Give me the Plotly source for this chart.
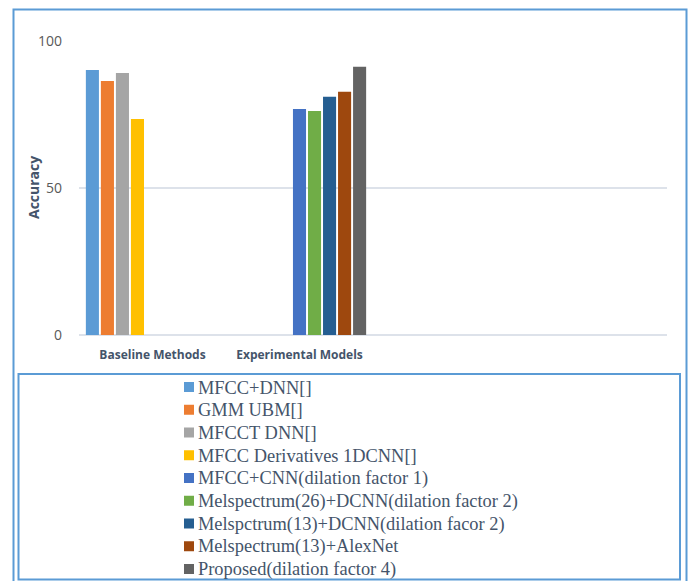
import plotly.graph_objects as go

# Category labels along the x axis (two trailing empty slots keep the spacing)
categories = ["Baseline Methods", "Experimental Models", "", ""]

# Series names and their accuracy values, with the category each belongs to
series_names = [
    "MFCC+DNN[]",
    "GMM UBM[]",
    "MFCCT DNN[]",
    "MFCC Derivatives 1DCNN[]",
    "MFCC+CNN(dilation factor 1)",
    "Melspectrum(26)+DCNN(dilation factor 2)",
    "Melspctrum(13)+DCNN(dilation facor 2)",
    "Melspectrum(13)+AlexNet",
    "Proposed(dilation factor 4)",
]
series_values = [90.1, 86.4, 89.1, 73.5, 76.9, 76.2, 81.0, 82.7, 91.2]
series_category = [0, 0, 0, 0, 1, 1, 1, 1, 1]

series_colors = [
    "#5B9BD5", "#ED7D31", "#A5A5A5", "#FFC000", "#4472C4",
    "#70AD47", "#255E91", "#9E480E", "#636363",
]

y_ticks = [0, 50, 100]

W, H = 692, 581
L, R, T, B = 79, 25, 41, 246
plot_w = W - L - R
plot_h = H - T - B


def px_x(p):
    return (p - L) / plot_w


def px_y(p):
    return (H - B - p) / plot_h


fig = go.Figure()
for name, val, cat, col in zip(series_names, series_values, series_category, series_colors):
    xs = list(range(len(categories)))
    ys = [val if i == cat else None for i in xs]
    fig.add_trace(go.Bar(
        x=xs, y=ys, name=name,
        marker=dict(color=col, line=dict(width=0)),
        showlegend=False,
    ))

label_color = "#44546A"

shapes = [
    # outer chart border
    dict(type="rect", xref="paper", yref="paper",
         x0=px_x(13.5), x1=px_x(686.5), y0=px_y(600), y1=px_y(9.5),
         line=dict(color="#5B9BD5", width=2), layer="below"),
    # legend frame
    dict(type="rect", xref="paper", yref="paper",
         x0=px_x(18.5), x1=px_x(680), y0=px_y(579.5), y1=px_y(374),
         line=dict(color="#5B9BD5", width=2), layer="below"),
]
annotations = [
    dict(text="<b>Accuracy</b>", textangle=-90, showarrow=False,
         xref="paper", yref="paper", x=px_x(33), y=px_y(188),
         xanchor="center", yanchor="middle",
         font=dict(size=14, color=label_color, family="Open Sans")),
]

# Legend: one swatch + label per series, stacked in the framed box
row0, row_step = 387, 22.75
for i, (name, col) in enumerate(zip(series_names, series_colors)):
    cy = row0 + i * row_step
    shapes.append(dict(type="rect", xref="paper", yref="paper",
                       x0=px_x(184), x1=px_x(194), y0=px_y(cy + 5), y1=px_y(cy - 5),
                       fillcolor=col, line=dict(width=0)))
    annotations.append(dict(text=name, showarrow=False, xref="paper", yref="paper",
                            x=px_x(196), y=px_y(cy + 0.5), xanchor="left", yanchor="middle",
                            font=dict(family="Liberation Serif", size=18.4, color=label_color)))

fig.update_layout(
    width=W, height=H,
    margin=dict(l=L, r=R, t=T, b=B, pad=0, autoexpand=False),
    paper_bgcolor="white",
    plot_bgcolor="white",
    barmode="group",
    bargap=0.08,
    bargroupgap=0.13,
    font=dict(family="Open Sans", color="#595959"),
    xaxis=dict(
        range=[-0.5, len(categories) - 0.5],
        tickvals=list(range(len(categories))),
        ticktext=[f"<b>{c}</b>" if c else "" for c in categories],
        tickfont=dict(size=12, color=label_color, family="Open Sans"),
        showgrid=False, zeroline=False, showline=False, ticks="",
        ticklabelstandoff=11,
    ),
    yaxis=dict(
        range=[0, 100],
        tickvals=y_ticks,
        tickfont=dict(size=14, color="#595959", family="Open Sans"),
        showgrid=True, gridcolor="#DDE2EA", gridwidth=1.5,
        zeroline=True, zerolinecolor="#DDE2EA", zerolinewidth=2,
        ticks="", ticklabelstandoff=16,
    ),
    showlegend=False,
    annotations=annotations,
    shapes=shapes,
)

fig.write_html("out.html")
